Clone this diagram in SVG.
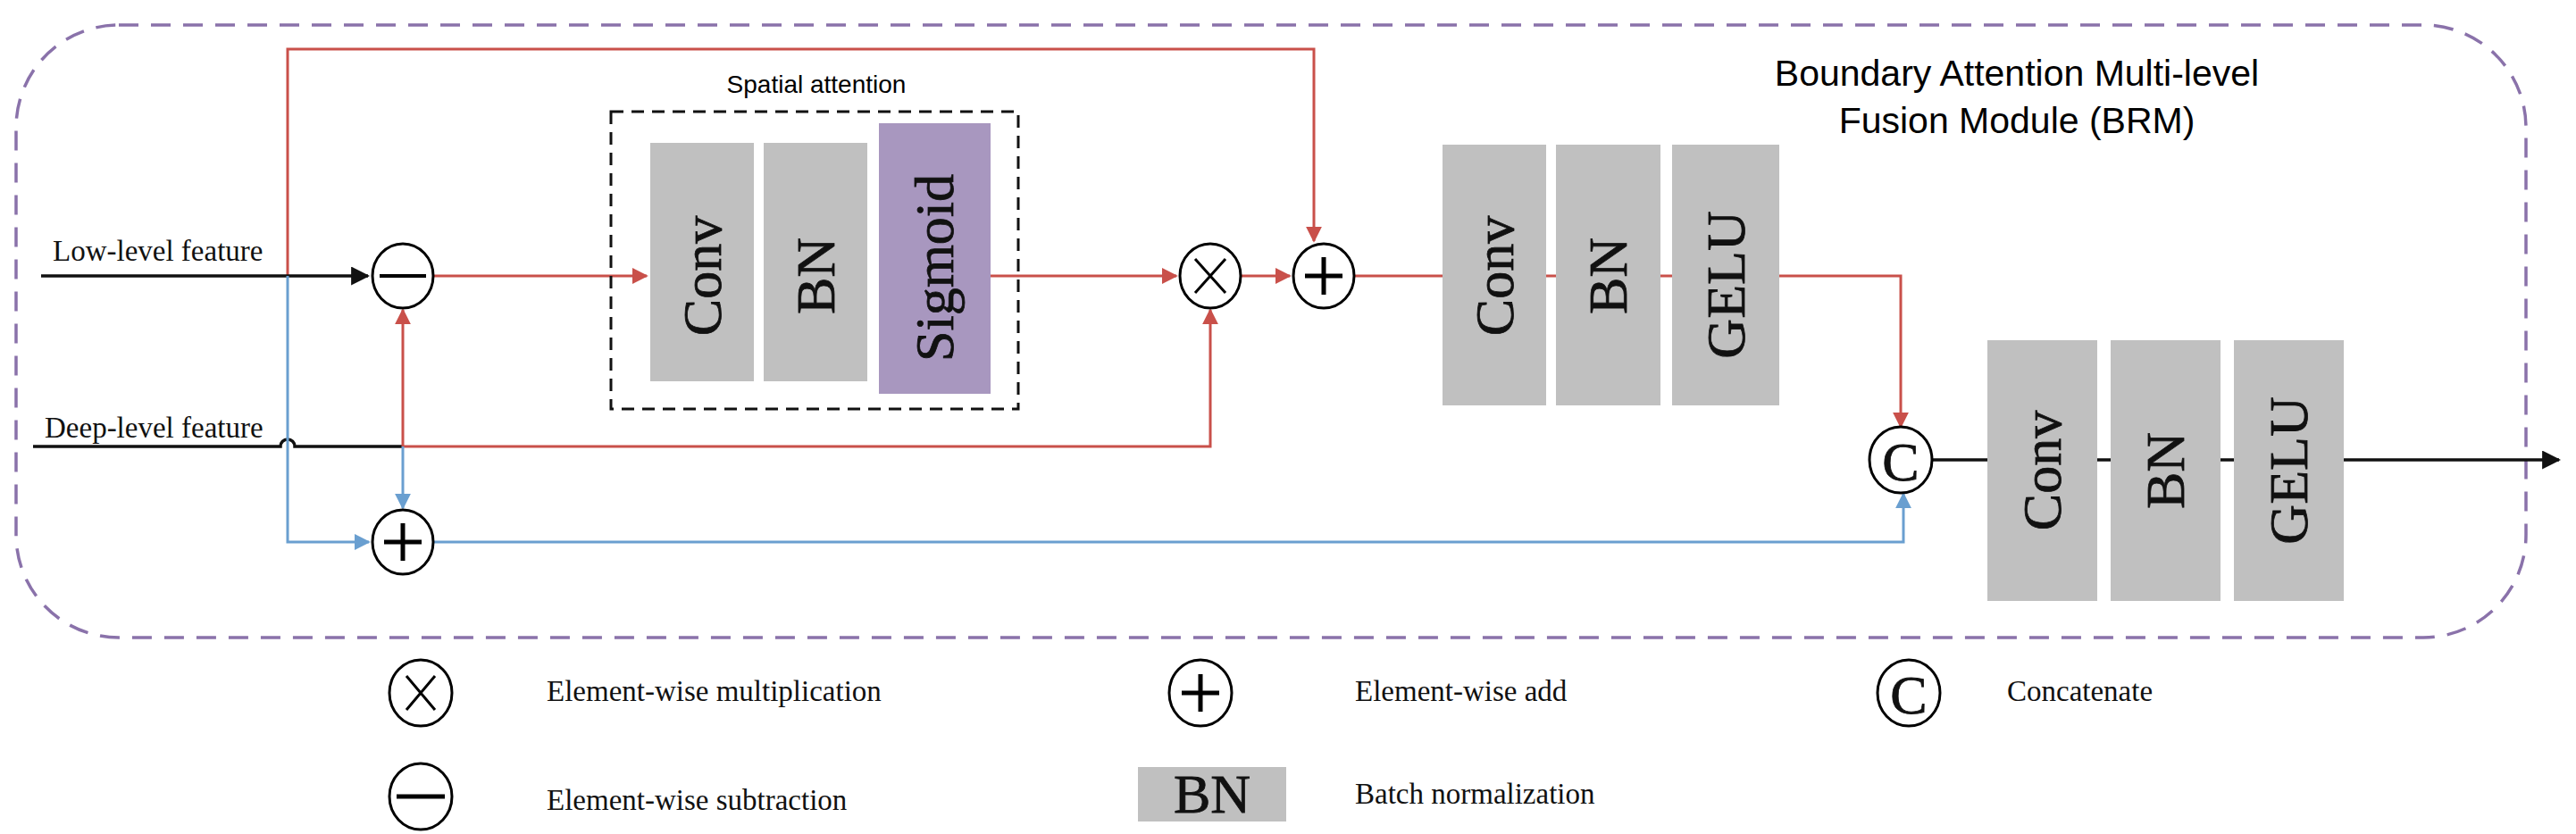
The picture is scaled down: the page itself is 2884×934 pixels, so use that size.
<svg xmlns="http://www.w3.org/2000/svg" width="2884" height="934" viewBox="0 0 2884 934">
<defs>
<style>
.box{fill:#c0c0c0}
.bt{font-family:"Liberation Serif",serif;font-size:62px;fill:#111;text-anchor:middle;dominant-baseline:central;stroke:#111;stroke-width:0.8}
.op{fill:#fff;stroke:#000;stroke-width:3}
.red{fill:none;stroke:#c9504a;stroke-width:3}
.blue{fill:none;stroke:#6a9fd0;stroke-width:3}
.blk{fill:none;stroke:#111;stroke-width:3.5}
.lg{font-family:"Liberation Serif",serif;font-size:33px;fill:#111}
.sans{font-family:"Liberation Sans",Arial,sans-serif;fill:#000}
</style>
<marker id="ar" viewBox="0 0 10 10" refX="9" refY="5" markerWidth="6" markerHeight="6" orient="auto"><path d="M0,0L10,5L0,10z" fill="#c9504a"/></marker>
<marker id="ab" viewBox="0 0 10 10" refX="9" refY="5" markerWidth="6" markerHeight="6" orient="auto"><path d="M0,0L10,5L0,10z" fill="#6a9fd0"/></marker>
<marker id="ak" viewBox="0 0 10 10" refX="9" refY="5" markerWidth="6" markerHeight="6" orient="auto"><path d="M0,0L10,5L0,10z" fill="#111"/></marker>
</defs>
<rect width="2884" height="934" fill="#fff"/>
<rect id="module" x="18" y="28" width="2810" height="686" rx="115" fill="none" stroke="#8a72aa" stroke-width="3.5" stroke-dasharray="22,14"/>
<g id="title" class="sans" font-size="41" text-anchor="middle"><text x="2258" y="96">Boundary Attention Multi-level</text><text x="2258" y="149">Fusion Module (BRM)</text></g>
<g id="connectors">
<path class="red" d="M322,309V55H1471V270" marker-end="url(#ar)"/>
<path class="blk" d="M46,309H412" marker-end="url(#ak)"/>
<path class="red" d="M486,309H724" marker-end="url(#ar)"/>
<path class="red" d="M1109,309H1317" marker-end="url(#ar)"/>
<path class="red" d="M1390,309H1444" marker-end="url(#ar)"/>
<path class="red" d="M1516,309H2128V478" marker-end="url(#ar)"/>
<path class="blk" d="M37,500H314a8,8 0 0 1 16,0H451"/>
<path class="red" d="M451,500H1355V347" marker-end="url(#ar)"/>
<path class="red" d="M451,500V347" marker-end="url(#ar)"/>
<path class="blue" d="M451,500V569" marker-end="url(#ab)"/>
<path class="blue" d="M322,309V607H413" marker-end="url(#ab)"/>
<path class="blue" d="M486,607H2131V553" marker-end="url(#ab)"/>
<path class="blk" d="M2164,515H2865" marker-end="url(#ak)"/>
</g>
<g id="low-label"><text class="lg" x="59" y="292" font-size="29">Low-level feature</text></g>
<g id="deep-label"><text class="lg" x="50" y="490" font-size="29">Deep-level feature</text></g>
<g id="sub"><ellipse class="op" cx="451" cy="309" rx="34" ry="36"/><path d="M425,309H477" stroke="#000" stroke-width="4"/></g>
<g id="addlow"><ellipse class="op" cx="451" cy="607" rx="34" ry="36"/><path d="M430,607H472M451,586V628" stroke="#000" stroke-width="5"/></g>
<g id="mul"><ellipse class="op" cx="1355" cy="309" rx="34" ry="36"/><path d="M1338,290L1372,328M1372,290L1338,328" stroke="#000" stroke-width="3"/></g>
<g id="add"><ellipse class="op" cx="1482" cy="309" rx="34" ry="36"/><path d="M1461,309H1503M1482,288V330" stroke="#000" stroke-width="5"/></g>
<g id="cat"><ellipse class="op" cx="2128" cy="515" rx="35" ry="37"/><text class="bt" x="2128" y="517" font-size="52" stroke-width="0">C</text></g>
<g id="spatial">
<text class="sans" x="914" y="104" font-size="28" text-anchor="middle">Spatial attention</text>
<rect x="684" y="125" width="456" height="333" fill="none" stroke="#111" stroke-width="3" stroke-dasharray="14,9"/>
</g>
<g id="sa-conv"><rect class="box" x="728" y="160" width="116" height="267"/><text class="bt" transform="translate(786,309) rotate(-90)">Conv</text></g>
<g id="sa-bn"><rect class="box" x="855" y="160" width="116" height="267"/><text class="bt" transform="translate(913,309) rotate(-90)">BN</text></g>
<g id="sa-sig"><rect x="984" y="138" width="125" height="303" fill="#a897bf"/><text class="bt" transform="translate(1046,300) rotate(-90)">Sigmoid</text></g>
<g id="c2-conv"><rect class="box" x="1615" y="162" width="116" height="292"/><text class="bt" transform="translate(1673,309) rotate(-90)">Conv</text></g>
<g id="c2-bn"><rect class="box" x="1742" y="162" width="117" height="292"/><text class="bt" transform="translate(1800,309) rotate(-90)">BN</text></g>
<g id="c2-gelu"><rect class="box" x="1872" y="162" width="120" height="292"/><text class="bt" transform="translate(1932,319) rotate(-90)">GELU</text></g>
<g id="c3-conv"><rect class="box" x="2225" y="381" width="123" height="292"/><text class="bt" transform="translate(2286,527) rotate(-90)">Conv</text></g>
<g id="c3-bn"><rect class="box" x="2363" y="381" width="123" height="292"/><text class="bt" transform="translate(2424,527) rotate(-90)">BN</text></g>
<g id="c3-gelu"><rect class="box" x="2501" y="381" width="123" height="292"/><text class="bt" transform="translate(2562,527) rotate(-90)">GELU</text></g>
<g id="legend">
<ellipse class="op" cx="471" cy="776" rx="35" ry="37"/><path d="M455,757L487,795M487,757L455,795" stroke="#000" stroke-width="3"/>
<text class="lg" x="612" y="785">Element-wise multiplication</text>
<ellipse class="op" cx="1344" cy="776" rx="35" ry="37"/><path d="M1323,776H1365M1344,755V797" stroke="#000" stroke-width="5"/>
<text class="lg" x="1517" y="785">Element-wise add</text>
<ellipse class="op" cx="2137" cy="776" rx="35" ry="37"/><text class="bt" x="2137" y="778" font-size="52" stroke-width="0">C</text>
<text class="lg" x="2247" y="785">Concatenate</text>
<ellipse class="op" cx="471" cy="892" rx="35" ry="37"/><path d="M444,892H498" stroke="#000" stroke-width="5"/>
<text class="lg" x="612" y="907">Element-wise subtraction</text>
<rect class="box" x="1274" y="859" width="166" height="61"/><text class="bt" x="1357" y="889" font-size="36" stroke-width="0">BN</text>
<text class="lg" x="1517" y="900">Batch normalization</text>
</g>
</svg>
